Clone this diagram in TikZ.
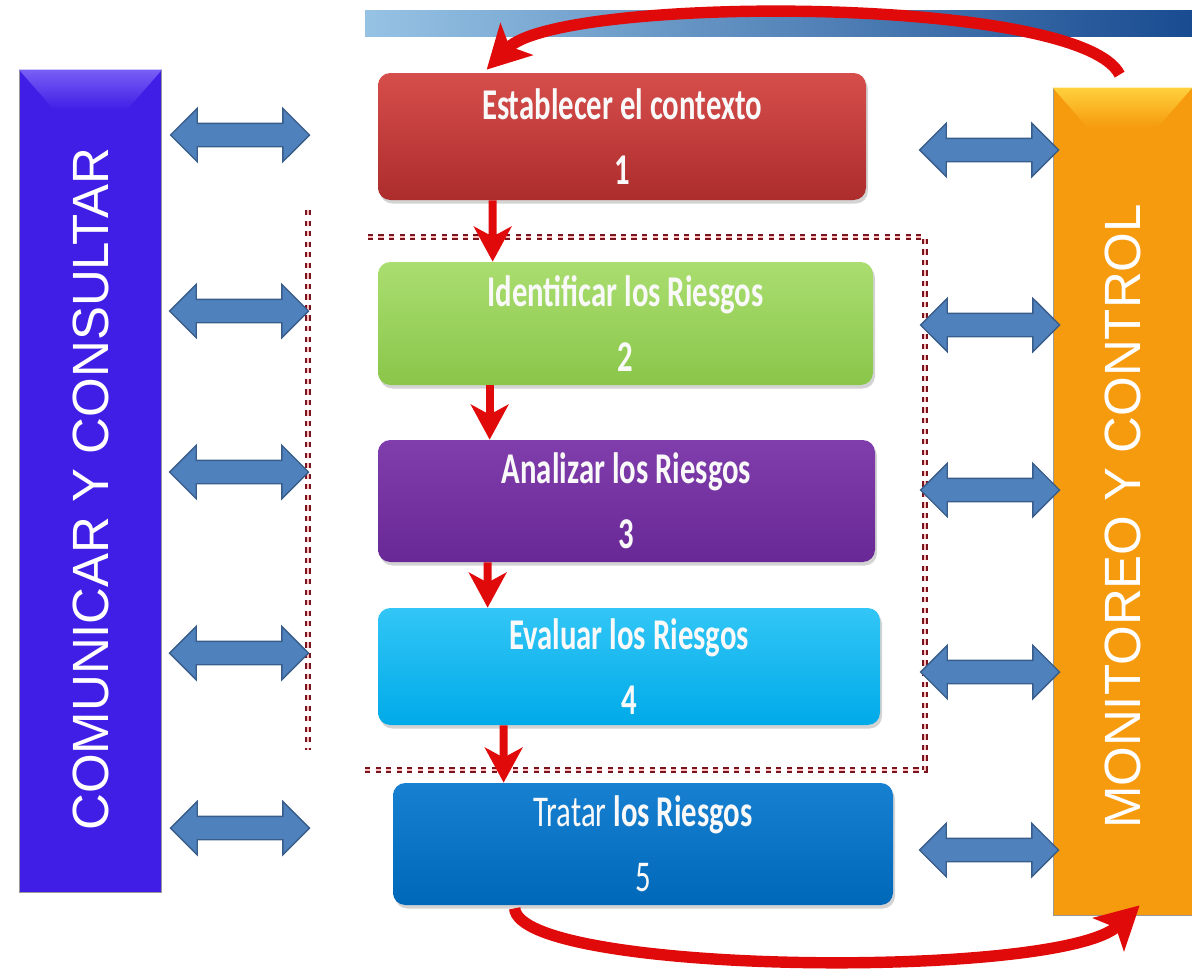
\documentclass[tikz,border=0pt]{standalone}
\usepackage{graphicx}
\usepackage{fontspec}
\setmainfont{Liberation Sans}
\newfontfamily\pasofont[FakeStretch=0.7]{Carlito}
\usetikzlibrary{arrows.meta,shapes.arrows,shadows}

\definecolor{violeta}{RGB}{64,30,230}
\definecolor{violetaclaro}{RGB}{120,95,245}
\definecolor{naranja}{RGB}{246,154,14}
\definecolor{naranjaclaro}{RGB}{255,208,60}
\definecolor{flechaazul}{RGB}{79,129,189}
\definecolor{flechaborde}{RGB}{56,93,138}
\definecolor{rojolinea}{RGB}{225,10,10}
\definecolor{marco}{RGB}{120,20,30}

\tikzset{
  paso/.style={rounded corners=7pt, align=center, text=white!95!gray,
    font=\pasofont\bfseries\fontsize{25}{29}\selectfont,
    drop shadow={opacity=0.35, shadow xshift=0.04cm, shadow yshift=-0.07cm}},
  barra/.style={draw=black!40, minimum width=2.85cm, text=white,
    font=\fontsize{29}{34}\selectfont},
  doble/.style={double arrow, double arrow head extend=0.3cm, inner xsep=0pt,
    inner ysep=0.22cm, minimum height=2.78cm, fill=flechaazul, draw=flechaborde,
    line width=0.8pt},
  flujo/.style={-{Stealth[length=0.7cm, width=0.75cm, inset=0.2cm]}, rojolinea, line width=4.5pt},
  ciclo/.style={-{Stealth[length=0.85cm, width=0.9cm, inset=0.2cm]}, rojolinea, line width=6.5pt},
  punteado/.style={dashed, marco, line width=1pt, double=red!25, double distance=1.2pt}
}

\begin{document}
\begin{tikzpicture}
\useasboundingbox (0,0) rectangle (23.84,-19.48);

% franja superior
\shade[left color={rgb,255:red,150;green,195;blue,228}, right color={rgb,255:red,25;green,75;blue,145}] (7.3,-0.2) rectangle (23.84,-0.72);

% barras laterales
\node[barra, fill=violeta, minimum height=16.44cm] (com) at (1.81,-9.62) {\rotatebox{90}{COMUNICAR Y CONSULTAR\hspace*{0.32cm}}};
\shade[top color=violetaclaro, bottom color=violeta] (com.north west) -- (com.north east) -- ([shift={(-0.7,-0.8)}]com.north east) -- ([shift={(0.7,-0.8)}]com.north west) -- cycle;

\node[barra, fill=naranja, minimum height=16.54cm, minimum width=2.78cm] (mon) at (22.45,-10.03) {\rotatebox{90}{MONITOREO Y CONTROL\hspace*{0.6cm}}};
\shade[top color=naranjaclaro, bottom color=naranja] (mon.north west) -- (mon.north east) -- ([shift={(-0.7,-0.8)}]mon.north east) -- ([shift={(0.7,-0.8)}]mon.north west) -- cycle;

% pasos
\node[paso, top color={rgb,255:red,214;green,78;blue,76}, bottom color={rgb,255:red,172;green,44;blue,44},
  minimum width=9.76cm, minimum height=2.54cm] (b1) at (12.44,-2.73) {Establecer el contexto\\[8pt]1};
\node[paso, top color={rgb,255:red,170;green,222;blue,112}, bottom color={rgb,255:red,138;green,198;blue,74},
  minimum width=9.9cm, minimum height=2.46cm] (b2) at (12.51,-6.47) {Identificar los Riesgos\\[8pt]2};
\node[paso, top color={rgb,255:red,128;green,62;blue,172}, bottom color={rgb,255:red,104;green,40;blue,150},
  minimum width=9.94cm, minimum height=2.44cm] (b3) at (12.53,-10.02) {Analizar los Riesgos\\[8pt]3};
\node[paso, top color={rgb,255:red,50;green,198;blue,246}, bottom color={rgb,255:red,0;green,170;blue,232},
  minimum width=10.04cm, minimum height=2.34cm] (b4) at (12.58,-13.33) {Evaluar los Riesgos\\[8pt]4};
\node[paso, top color={rgb,255:red,24;green,128;blue,208}, bottom color={rgb,255:red,0;green,104;blue,184},
  minimum width=10cm, minimum height=2.44cm] (b5) at (12.86,-16.88) {{\mdseries Tratar} los Riesgos\\[8pt]{\mdseries 5}};

% marco punteado
\draw[punteado] (7.3,-15.4) -- (18.5,-15.4) -- (18.5,-4.74) -- (7.3,-4.74);
\draw[punteado] (6.16,-4.2) -- (6.16,-15.0);

% flechas dobles
\node[doble] (l1) at (4.8,-2.7) {};
\node[doble] (l2) at (4.78,-6.22) {};
\node[doble] (l3) at (4.78,-9.44) {};
\node[doble] (l4) at (4.78,-13.06) {};
\node[doble] (l5) at (4.8,-16.56) {};
\node[doble] (r1) at (19.78,-3.0) {};
\node[doble] (r2) at (19.8,-6.5) {};
\node[doble] (r3) at (19.8,-9.8) {};
\node[doble] (r4) at (19.8,-13.44) {};
\node[doble] (r5) at (19.78,-17.0) {};

% flechas rojas
\draw[flujo] ([xshift=2.3cm]b1.south west) -- ([xshift=2.3cm]b2.north west);
\draw[flujo] ([xshift=2.24cm]b2.south west) -- ([xshift=2.24cm]b3.north west);
\draw[flujo] ([xshift=2.2cm]b3.south west) -- ([xshift=2.2cm]b4.north west);
\draw[flujo] ([xshift=2.52cm]b4.south west) -- ([xshift=2.22cm]b5.north west);

\draw[ciclo] ([shift={(1.34,0.26)}]mon.north west) .. controls (21.6,0.1) and (11.2,0.1) .. ([shift={(2.18,0.06)}]b1.north west);
\draw[ciclo] ([shift={(2.44,-0.06)}]b5.south west) .. controls (10.4,-19.5) and (21.2,-19.6) .. ([shift={(1.74,0.2)}]mon.south west);
\end{tikzpicture}
\end{document}
